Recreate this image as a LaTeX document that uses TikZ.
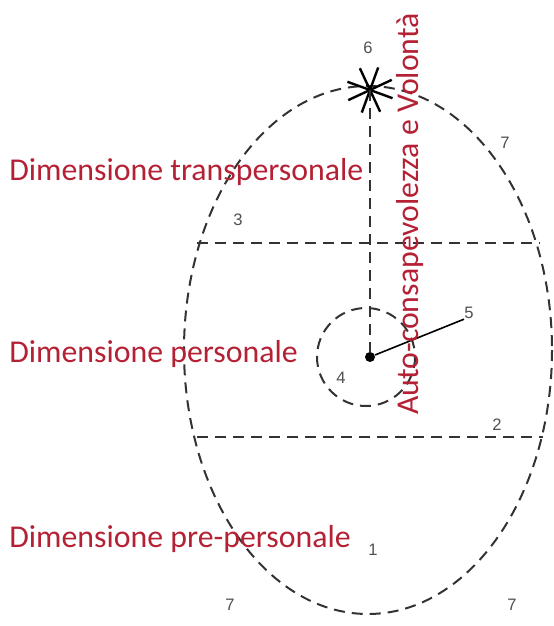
\documentclass[tikz,border=0pt]{standalone}
\usepackage{fontspec}
\setmainfont{Carlito}
\newfontfamily\numfont{Liberation Sans}
\usetikzlibrary{positioning,calc}
\definecolor{dimred}{RGB}{180,32,52}
\definecolor{numgray}{RGB}{80,80,80}
\begin{document}
\begin{tikzpicture}[
  x=0.5pt, y=-0.5pt,
  dimlabel/.style={text=dimred, font=\fontsize{15.9}{18}\selectfont, inner sep=0pt, anchor=west},
  numlabel/.style={text=numgray, font=\numfont\fontsize{8.3}{10}\selectfont, inner sep=0pt},
  dashline/.style={draw=black!80, line width=1pt, dash pattern=on 5.5pt off 3.5pt},
]
  \useasboundingbox (0,0) rectangle (553,626);

  % the egg and its three levels
  \draw[dashline] (368,350) ellipse [x radius=184, y radius=264];
  \coordinate (l3) at (197,243); \coordinate (r3) at (540,243);
  \coordinate (l2) at (197,437); \coordinate (r2) at (543,437);
  \draw[dashline] (l3) -- (r3);
  \draw[dashline] (l2) -- (r2);

  % conscious field and self
  \draw[dashline] (366,357) circle [radius=49];
  \node[circle, fill=black, inner sep=0pt, minimum size=5pt] (io) at (370,357) {};
  \coordinate (sself) at (370,90);
  \foreach \a in {20,65,110,155}
    \draw[line width=1.2pt] ($(sself)+(\a:24)$) -- ($(sself)+(\a+180:24)$);
  \draw[dashline] (sself) -- (io);
  \node[numlabel] (n5) at (469,313) {5};
  \draw[line width=0.8pt] (io) -- (n5.south west);

  % numbers
  \node[numlabel] (n6) at (368,48) {6};
  \node[numlabel] (n7a) at (505,143) {7};
  \node[numlabel] (n3) at (238,220) {3};
  \node[numlabel] (n4) at (341,378) {4};
  \node[numlabel] (n2) at (497,425) {2};
  \node[numlabel] (n1) at (373,550) {1};
  \node[numlabel] (n7b) at (230,605) {7};
  \node[numlabel] (n7c) at (512,605) {7};

  % labels
  \node[dimlabel] (trans) at (9,172) {Dimensione transpersonale};
  \node[dimlabel] (pers)  at (9,354) {Dimensione personale};
  \node[dimlabel] (pre)   at (9,539) {Dimensione pre-personale};
  \node[text=dimred, font=\fontsize{15.9}{18}\selectfont, inner sep=0pt, rotate=90] (will) at (410,214) {Auto-consapevolezza e Volontà};
\end{tikzpicture}
\end{document}
